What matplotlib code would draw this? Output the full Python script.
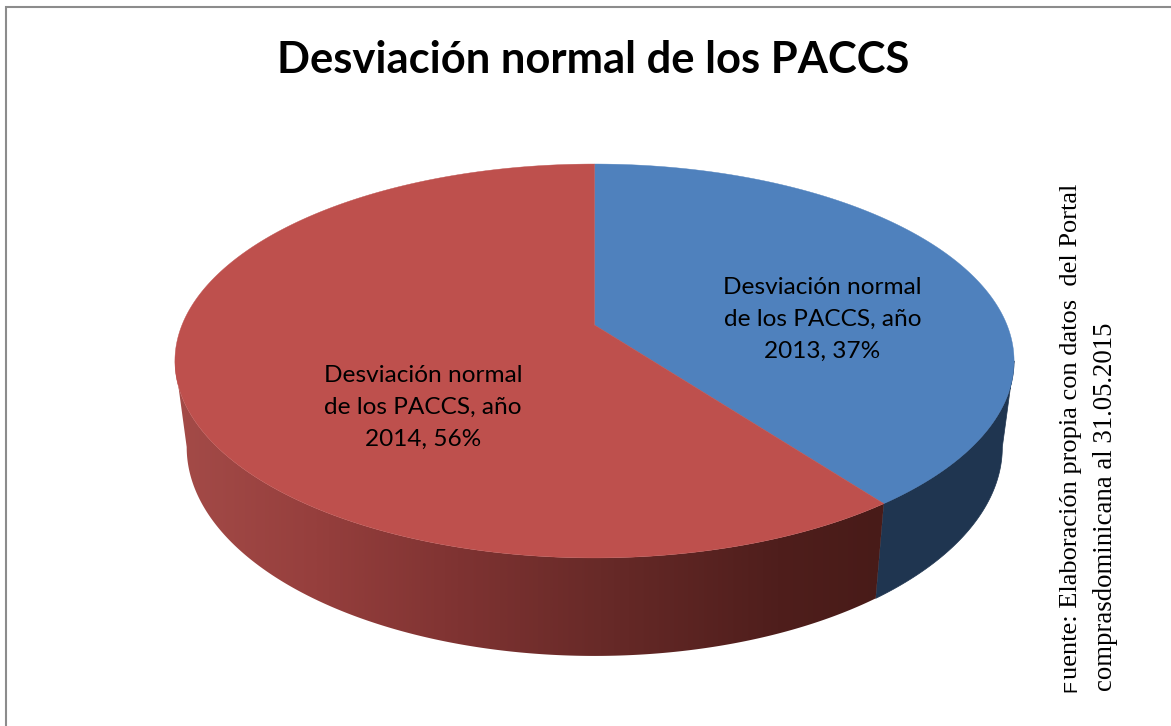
import numpy as np
import matplotlib.pyplot as plt
from matplotlib.colors import LinearSegmentedColormap
from matplotlib.patches import Polygon

titulo = 'Desviación normal de los PACCS'
etiquetas = ['Desviación normal\nde los PACCS, año\n2013, 37%',
             'Desviación normal\nde los PACCS, año\n2014, 56%']
valores = [37, 56]
colores_dessus = ['#4F81BD', '#BE504D']
color_cote_bleu = '#1F3550'
# degrade horizontal du cote rouge
degrade_rouge = [(0, '#A44B48'), (0.2, '#963F3D'), (0.4, '#7F3332'),
                 (0.6, '#682A28'), (0.85, '#4F1E1C'), (1, '#481B18')]
fuente_1 = 'uente: Elaboración propia con datos  del Portal'
fuente_2 = 'comprasdominicana al 31.05.2015'

# projection de la tarte en perspective (pixels de l'image)
cx, cy = 594.5, 325
rx = 412.5
b, c = -131.0, 0.1827
echelle_x_bas, echelle_y_bas = 0.972, 1.06
y_avant, y_avant_bas = 558, 656


def dessus(theta):
    # theta en radians, depuis midi, sens horaire
    X, Y = np.sin(theta), np.cos(theta)
    return cx + rx * X / (1 + c * Y), (cy + b * Y) / (1 + c * Y)


def dessous(theta):
    x, y = dessus(theta)
    return cx + (x - cx) * echelle_x_bas, y_avant_bas + (y - y_avant) * echelle_y_bas


fig = plt.figure(figsize=(11.71, 7.26), dpi=100)
ax = fig.add_axes([0, 0, 1, 1])
ax.set_xlim(0, 1171)
ax.set_ylim(726, 0)
ax.axis('off')

# cadre du graphique (haut et gauche seulement)
ax.plot([5.5, 5.5, 1171], [726, 6.5, 6.5], color='#8C8C8C', lw=1.5, solid_joinstyle='miter')

angle_fin = np.cumsum(valores) / np.sum(valores) * 2 * np.pi
angle_debut = np.concatenate([[0], angle_fin[:-1]])

t = np.linspace(0, 2 * np.pi, 2000)
x_tout, _ = dessus(t)
t_droite = t[np.argmax(x_tout)]
t_gauche = t[np.argmin(x_tout)]

# cote bleu
t_bleu = np.linspace(t_droite, angle_fin[0], 200)
xh, yh = dessus(t_bleu)
xb, yb = dessous(t_bleu)
ax.add_patch(Polygon(np.r_[np.c_[xh, yh], np.c_[xb, yb][::-1]], fc=color_cote_bleu, ec=color_cote_bleu, lw=0.5))

# cote rouge avec degrade
t_rouge = np.linspace(angle_fin[0], t_gauche, 300)
xh, yh = dessus(t_rouge)
xb, yb = dessous(t_rouge)
poly = Polygon(np.r_[np.c_[xh, yh], np.c_[xb, yb][::-1]], fc='none', ec='none')
ax.add_patch(poly)
cmap = LinearSegmentedColormap.from_list('rouge', degrade_rouge)
im = ax.imshow(np.linspace(0, 1, 400).reshape(1, -1), cmap=cmap, aspect='auto',
               extent=[172, 886, 670, 340], zorder=1)
im.set_clip_path(poly)
ax.set_xlim(0, 1171)
ax.set_ylim(726, 0)

# faces du dessus
for debut, fin, coul in zip(angle_debut, angle_fin, colores_dessus):
    th = np.linspace(debut, fin, 400)
    x, y = dessus(th)
    pts = np.r_[[[cx, cy]], np.c_[x, y]]
    ax.add_patch(Polygon(pts, fc=coul, ec=coul, lw=0.3, zorder=2))

ax.text(593, 60, titulo, fontsize=31.3, fontweight='bold', family='Lato',
        ha='center', va='center', color='black')
ax.text(822.5, 319.5, etiquetas[0], fontsize=17.6, family='Lato', ha='center', va='center',
        linespacing=1.66, color='black', zorder=3)
ax.text(423, 407.5, etiquetas[1], fontsize=17.6, family='Lato', ha='center', va='center',
        linespacing=1.66, color='black', zorder=3)

# source, texte vertical
ax.text(1076.5, 692, 'F', fontsize=14, family='Liberation Sans', rotation=90, ha='left',
        va='baseline', rotation_mode='anchor')
ax.text(1076.5, 679, fuente_1, fontsize=19, family='Liberation Serif', rotation=90, ha='left',
        va='baseline', rotation_mode='anchor')
ax.text(1112, 691, fuente_2, fontsize=19.25, family='Liberation Serif', rotation=90, ha='left',
        va='baseline', rotation_mode='anchor')

fig.savefig('out.png', dpi=100)
